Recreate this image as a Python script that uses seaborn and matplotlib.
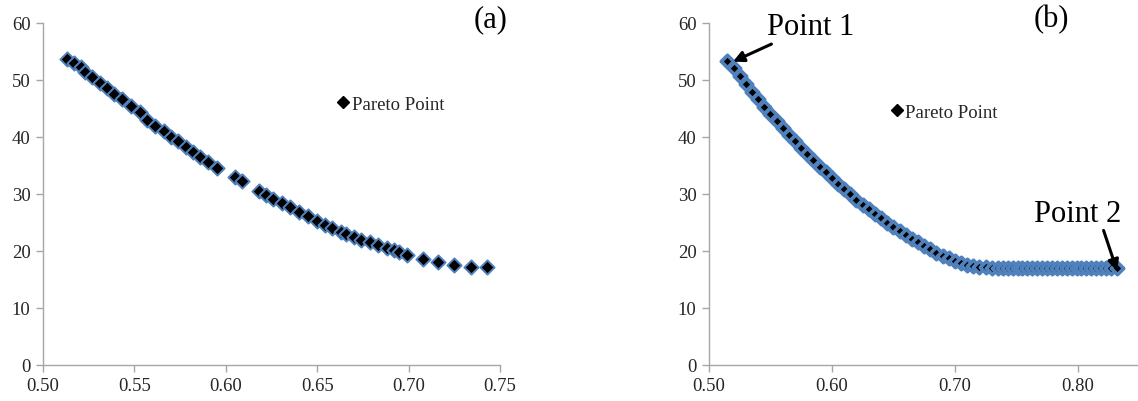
import matplotlib
matplotlib.use("Agg")
import matplotlib.pyplot as plt
from matplotlib.lines import Line2D
import seaborn as sns
import pandas as pd

# Pareto front, case (a)
xa = [0.513, 0.517, 0.521, 0.523, 0.527, 0.531, 0.535, 0.539, 0.543, 0.548,
      0.553, 0.557, 0.561, 0.566, 0.570, 0.574, 0.578, 0.582, 0.586, 0.590,
      0.595, 0.605, 0.609, 0.618, 0.622, 0.626, 0.631, 0.635, 0.640, 0.645,
      0.650, 0.654, 0.658, 0.663, 0.666, 0.670, 0.674, 0.679, 0.683, 0.688,
      0.692, 0.695, 0.699, 0.708, 0.716, 0.725, 0.734, 0.743]
ya = [53.7, 53.0, 52.2, 51.4, 50.5, 49.5, 48.5, 47.6, 46.7, 45.5,
      44.4, 43.0, 42.0, 41.0, 40.0, 39.2, 38.2, 37.4, 36.5, 35.6,
      34.5, 33.0, 32.2, 30.5, 29.8, 29.1, 28.4, 27.7, 26.9, 26.1,
      25.2, 24.5, 24.0, 23.3, 22.9, 22.4, 22.0, 21.5, 21.0, 20.6,
      20.1, 19.8, 19.3, 18.6, 18.1, 17.6, 17.2, 17.1]

# Pareto front, case (b)
xb = [0.515, 0.520, 0.525, 0.530, 0.535, 0.540, 0.545, 0.550, 0.555, 0.560,
      0.565, 0.570, 0.575, 0.580, 0.585, 0.590, 0.595, 0.600, 0.605, 0.610,
      0.615, 0.620, 0.625, 0.630, 0.635, 0.640, 0.645, 0.650, 0.655, 0.660,
      0.665, 0.670, 0.675, 0.680, 0.685, 0.690, 0.695, 0.700, 0.705, 0.710,
      0.715, 0.720, 0.725, 0.730, 0.735, 0.739, 0.743, 0.747, 0.751, 0.755,
      0.759, 0.763, 0.767, 0.771, 0.775, 0.779, 0.783, 0.787, 0.791, 0.795,
      0.799, 0.803, 0.807, 0.811, 0.815, 0.819, 0.823, 0.827, 0.832]
yb = [53.4, 52.0, 50.6, 49.2, 47.9, 46.6, 45.3, 44.0, 42.8, 41.6,
      40.4, 39.2, 38.1, 37.0, 35.9, 34.8, 33.8, 32.8, 31.8, 30.8,
      29.9, 29.0, 28.1, 27.3, 26.5, 25.7, 24.9, 24.2, 23.5, 22.8,
      22.1, 21.5, 20.9, 20.3, 19.7, 19.2, 18.7, 18.3, 17.9, 17.6,
      17.4, 17.2, 17.1, 17.0, 17.0, 17.0, 17.0, 17.0, 17.0, 17.0,
      17.0, 17.0, 17.0, 17.0, 17.0, 17.0, 17.0, 17.0, 17.0, 17.0,
      17.0, 17.0, 17.0, 17.0, 17.0, 17.0, 17.0, 17.0, 17.0]

ticks_a = [0.50, 0.55, 0.60, 0.65, 0.70, 0.75]
ticks_b = [0.50, 0.60, 0.70, 0.80]
yticks = [0, 10, 20, 30, 40, 50, 60]

sns.set_style("white")
plt.rcParams["font.family"] = ["Liberation Serif", "DejaVu Serif"]

fig = plt.figure(figsize=(11.38, 4.02), dpi=100)
ax_a = fig.add_axes([0.0378, 0.0896, 0.4016, 0.851])
ax_b = fig.add_axes([0.623, 0.0896, 0.377, 0.851])

edge_blue = "#4F81BD"
axis_grey = "#A6A6A6"
text_col = "#262626"


def draw_front(ax, x, y, xticks, xlim, size, edge_w):
    df = pd.DataFrame({"x": x, "y": y})
    sns.scatterplot(data=df, x="x", y="y", ax=ax, marker="D", s=size,
                    color="black", edgecolor=edge_blue, linewidth=edge_w,
                    zorder=3, clip_on=False)
    ax.set_xlim(*xlim)
    ax.set_ylim(0, 60)
    ax.set_xticks(xticks)
    ax.set_xticklabels([f"{t:.2f}" for t in xticks])
    ax.set_yticks(yticks)
    ax.set_xlabel("")
    ax.set_ylabel("")
    for side in ("top", "right"):
        ax.spines[side].set_visible(False)
    for side in ("left", "bottom"):
        ax.spines[side].set_color(axis_grey)
        ax.spines[side].set_linewidth(1.0)
    ax.tick_params(axis="both", direction="out", length=5, width=1.0,
                   color=axis_grey, labelsize=13.5, labelcolor=text_col,
                   left=True, bottom=True, pad=4)


draw_front(ax_a, xa, ya, ticks_a, (0.50, 0.75), 52, 1.4)
draw_front(ax_b, xb, yb, ticks_b, (0.50, 0.849), 40, 2.6)

handle = Line2D([], [], marker="D", color="black", linestyle="none",
                markersize=6.5)
for ax, anchor in ((ax_a, (0.624, 0.81)), (ax_b, (0.403, 0.785))):
    ax.legend([handle], ["Pareto Point"], loc="upper left",
              bbox_to_anchor=anchor, frameon=False, fontsize=13.5,
              handletextpad=0.05, handlelength=0.8, borderaxespad=0)

arrow = dict(arrowstyle="-|>", color="black", lw=2.2, mutation_scale=16,
             shrinkA=0, shrinkB=0)
ax_b.annotate("Point 1", xy=(0.5195, 53.2), xytext=(0.547, 59.4),
              fontsize=22, color="black", ha="left", va="center",
              arrowprops=arrow, annotation_clip=False)
ax_b.annotate("", xy=(0.832, 16.5), xytext=(0.821, 23.6),
              arrowprops=arrow, annotation_clip=False)
ax_b.text(0.7645, 26.6, "Point 2", fontsize=22, color="black",
          ha="left", va="center")

fig.text(491 / 1138, 1 - 20 / 402, "(a)", fontsize=22, ha="center",
         va="center", color="black")
fig.text(1051 / 1138, 1 - 20 / 402, "(b)", fontsize=22, ha="center",
         va="center", color="black")

fig.savefig("out.png", dpi=100, facecolor="white")
